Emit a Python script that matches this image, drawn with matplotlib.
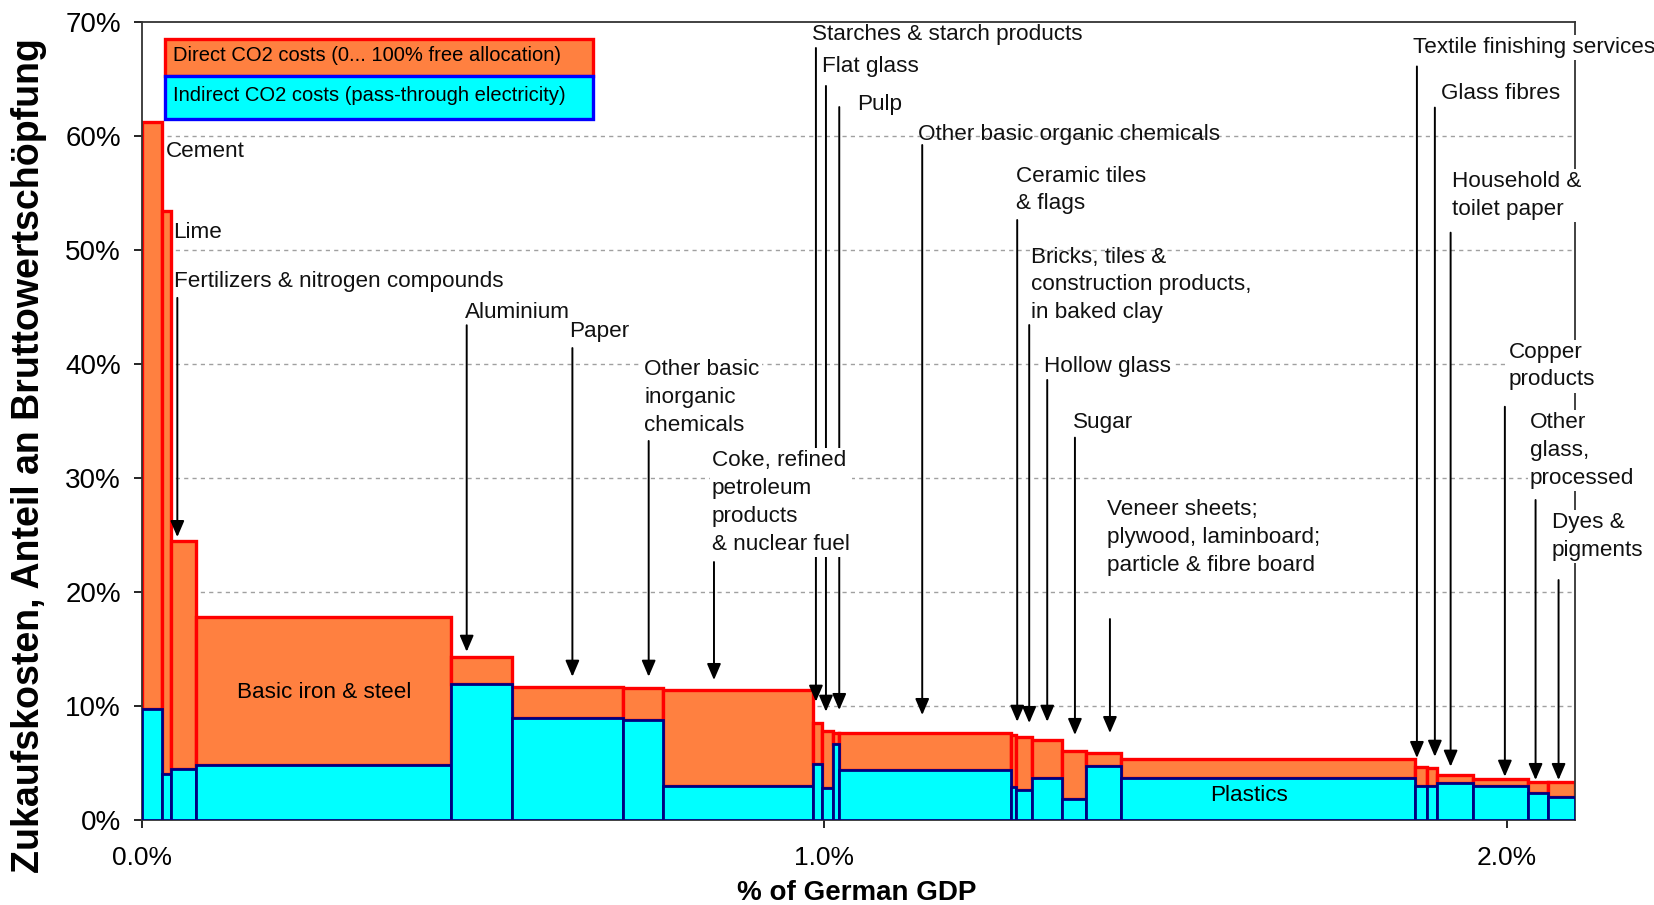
import numpy as np
import matplotlib
matplotlib.use("Agg")
import matplotlib.pyplot as plt
from matplotlib.patches import Rectangle
from matplotlib.ticker import FuncFormatter

plt.rcParams['font.family'] = ['Liberation Sans', 'DejaVu Sans']

# Sektoren (von links nach rechts)
sectors = ["Cement", "Lime", "Fertilizers & nitrogen compounds", "Basic iron & steel",
           "Aluminium", "Paper", "Other basic inorganic chemicals",
           "Coke, refined petroleum products & nuclear fuel", "Starches & starch products",
           "Flat glass", "Pulp", "Other basic organic chemicals", "Ceramic tiles & flags",
           "Bricks, tiles & construction products, in baked clay", "Hollow glass", "Sugar",
           "Veneer sheets; plywood, laminboard; particle & fibre board", "Plastics",
           "Textile finishing services", "Glass fibres", "Household & toilet paper",
           "Copper products", "Other glass, processed", "Dyes & pigments"]

# Anteil am deutschen BIP in % (Balkenbreite)
gdp_share = [0.030, 0.0126, 0.0367, 0.3734, 0.0901, 0.1626, 0.0581, 0.2207, 0.0129,
             0.0161, 0.0091, 0.2520, 0.0066, 0.0242, 0.0432, 0.0352, 0.0508, 0.4313,
             0.0172, 0.0151, 0.0532, 0.0797, 0.0298, 0.0396]

# Zukaufskosten in % der Bruttowertschöpfung
total_cost = [61.2, 53.4, 24.5, 17.85, 14.3, 11.7, 11.55, 11.4, 8.55, 7.85, 7.6, 7.6,
              7.45, 7.3, 7.0, 6.05, 5.92, 5.33, 4.65, 4.53, 3.95, 3.57, 3.3, 3.3]
indirect_cost = [9.7, 4.05, 4.5, 4.82, 11.9, 8.93, 8.8, 2.95, 4.88, 2.78, 6.67, 4.39,
                 2.87, 2.63, 3.65, 1.87, 4.7, 3.65, 2.98, 2.98, 3.22, 2.95, 2.37, 2.02]

legend_labels = ["Direct CO2 costs (0... 100% free allocation)",
                 "Indirect CO2 costs (pass-through electricity)"]

widths = np.array(gdp_share)
lefts = np.concatenate([[0], np.cumsum(widths)[:-1]])
indirect = np.array(indirect_cost)
direct = np.array(total_cost) - indirect

ORANGE = "#ff8040"
RED = "#ff0000"
CYAN = "#00ffff"
NAVY = "#000080"

fig = plt.figure(figsize=(16.54, 9.05), dpi=100)
ax = fig.add_axes([0.0858, 0.0939, 0.8664, 0.8818])

# Balken: direkte Kosten oben, indirekte unten
ax.bar(lefts, direct, width=widths, bottom=indirect, align='edge',
       color=ORANGE, edgecolor=RED, linewidth=2.4, zorder=2)
ax.bar(lefts, indirect, width=widths, align='edge',
       color=CYAN, edgecolor=NAVY, linewidth=2.0, zorder=3)

ax.set_xlim(0, widths.sum())
ax.set_ylim(0, 70)
ax.set_xticks([0, 1, 2])
ax.set_yticks(np.arange(0, 71, 10))
ax.xaxis.set_major_formatter(FuncFormatter(lambda v, p: f"{v:.1f}%"))
ax.yaxis.set_major_formatter(FuncFormatter(lambda v, p: f"{v:.0f}%"))
ax.tick_params(axis='y', direction='out', length=6, width=1.2, pad=9, labelsize=20)
ax.tick_params(axis='x', direction='out', length=6, width=1.2, pad=13, labelsize=19)

for y in range(10, 70, 10):
    ax.axhline(y, color='#a0a0a0', lw=1.0, ls=(0, (3, 3)), zorder=1)

for s in ax.spines.values():
    s.set_color('#333333')
    s.set_linewidth(1.3)

ax.set_xlabel("% of German GDP", fontsize=20, fontweight='bold', va='center')
ax.xaxis.set_label_coords(0.4987, -0.092)
fig.text(0.0178, 0.4961, "Zukaufskosten, Anteil an Bruttowertschöpfung", fontsize=27,
         fontweight='bold', rotation=90, ha='center', va='center')

# Legende als Kästen
ax.add_patch(Rectangle((0.0161, 0.9323), 0.2987, 0.046, transform=ax.transAxes,
                       facecolor=ORANGE, edgecolor=RED, lw=2.4, zorder=6, clip_on=False))
ax.add_patch(Rectangle((0.0161, 0.8781), 0.2987, 0.0542, transform=ax.transAxes,
                       facecolor=CYAN, edgecolor='#0000ff', lw=2.4, zorder=6, clip_on=False))
ax.text(0.0215, 0.9574, legend_labels[0], transform=ax.transAxes, fontsize=14.5,
        va='center', ha='left', zorder=7)
ax.text(0.0215, 0.9085, legend_labels[1], transform=ax.transAxes, fontsize=14.5,
        va='center', ha='left', zorder=7)

# Beschriftungen: Text, (x, y) Text, Pfeil x, Pfeil Start y, Pfeil Spitze y, Hintergrund
labels = [
    ("Cement", 0.0353, 58.68, None, None, None, False),
    ("Lime", 0.0451, 51.52, None, None, None, False),
    ("Fertilizers & nitrogen compounds", 0.0470, 47.22, 0.0519, 45.8, 24.82, False),
    ("Aluminium", 0.4735, 44.56, 0.476, 43.4, 14.76, False),
    ("Paper", 0.6268, 42.81, 0.6309, 41.4, 12.57, False),
    ("Other basic\ninorganic\nchemicals", 0.7365, 37.06, 0.7427, 33.25, 12.57, True),
    ("Coke, refined\npetroleum\nproducts\n& nuclear fuel", 0.8354, 27.83, 0.8384, 22.63, 12.28, True),
    ("Starches & starch products", 0.9817, 68.86, 0.9878, 67.72, 10.38, False),
    ("Flat glass", 0.9962, 66.08, 1.0025, 64.39, 9.5, False),
    ("Pulp", 1.0475, 62.72, 1.022, 62.54, 9.65, False),
    ("Other basic organic chemicals", 1.1373, 60.09, 1.1436, 59.21, 9.21, False),
    ("Ceramic tiles\n& flags", 1.2809, 55.26, 1.2828, 52.63, 8.62, True),
    ("Bricks, tiles &\nconstruction products,\nin baked clay", 1.3025, 46.93, 1.3004, 43.42, 8.51, False),
    ("Hollow glass", 1.3224, 39.82, 1.3268, 38.6, 8.62, True),
    ("Sugar", 1.364, 34.91, 1.3674, 33.54, 7.46, True),
    ("Veneer sheets;\nplywood, laminboard;\nparticle & fibre board", 1.415, 24.8, 1.4187, 17.63, 7.63, True),
    ("Textile finishing services", 1.8632, 67.76, 1.8686, 66.1, 5.44, True),
    ("Glass fibres", 1.9032, 63.77, 1.8949, 62.49, 5.55, True),
    ("Household &\ntoilet paper", 1.9194, 54.79, 1.918, 51.52, 4.68, True),
    ("Copper\nproducts", 2.0034, 39.82, 1.9975, 36.25, 3.8, True),
    ("Other\nglass,\nprocessed", 2.0341, 32.4, 2.0425, 28.07, 3.51, True),
    ("Dyes &\npigments", 2.066, 24.88, 2.0762, 21.05, 3.51, True),
]

for text, tx, ty, axx, y0, y1, bg in labels:
    kw = {}
    if bg:
        kw['bbox'] = dict(facecolor='white', edgecolor='none', pad=1.5)
    ax.text(tx, ty, text, fontsize=16.2, ha='left', va='center', color='#111111',
            linespacing=1.43, zorder=8, clip_on=False, **kw)
    if axx is not None:
        ax.annotate('', xy=(axx, y1), xytext=(axx, y0),
                    arrowprops=dict(arrowstyle='-|>,head_length=0.7,head_width=0.3',
                                    color='black', lw=1.4, shrinkA=0, shrinkB=0,
                                    mutation_scale=14), zorder=5)

# Beschriftungen in den Balken
ax.text(0.2666, 11.2, "Basic iron & steel", fontsize=16.2,
        ha='center', va='center', zorder=8)
ax.text(1.6224, 2.15, "Plastics", fontsize=16.2,
        ha='center', va='center', zorder=8)

fig.savefig("out.png", dpi=100)
